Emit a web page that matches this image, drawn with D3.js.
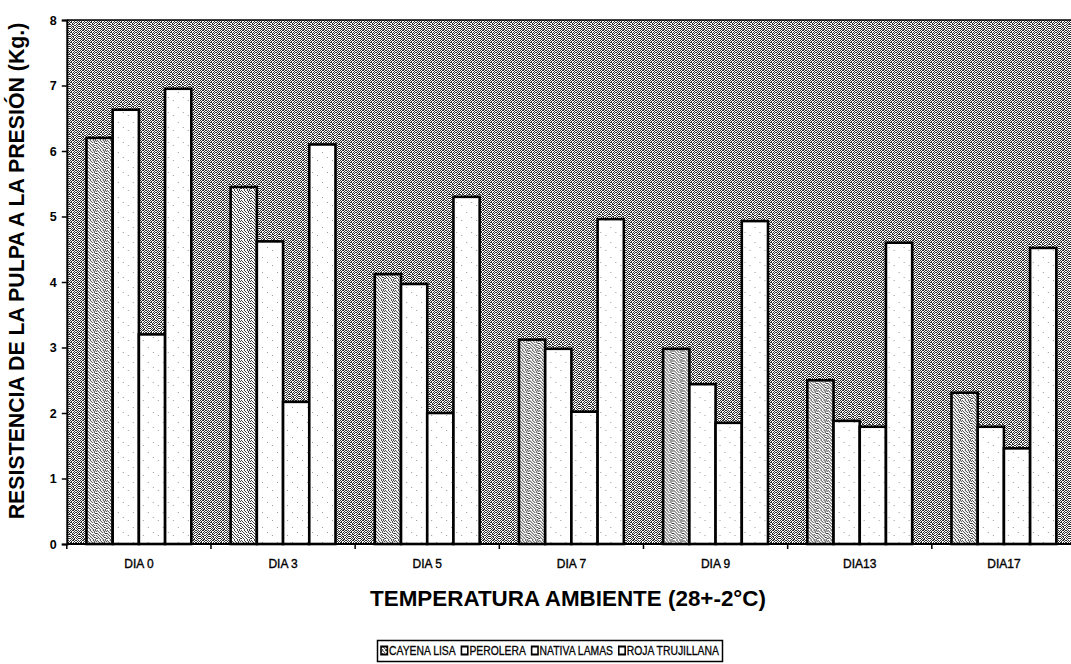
<!DOCTYPE html>
<html>
<head>
<meta charset="utf-8">
<script src="https://cdn.jsdelivr.net/npm/d3@7"></script>
<style>
  html, body { margin: 0; padding: 0; background: #fff; }
  svg { display: block; }
  text { font-family: "Liberation Sans", Arial, sans-serif; }
</style>
</head>
<body>
<svg id="chart" width="1071" height="664"></svg>
<script>
const categories = ["DIA 0", "DIA 3", "DIA 5", "DIA 7", "DIA 9", "DIA13", "DIA17"];
const seriesNames = ["CAYENA LISA", "PEROLERA", "NATIVA LAMAS", "ROJA TRUJILLANA"];
const cayenaLisa     = [6.20, 5.45, 4.12, 3.12, 2.98, 2.50, 2.31];
const perolera       = [6.63, 4.62, 3.97, 2.98, 2.44, 1.88, 1.79];
const nativaLamas    = [3.20, 2.17, 2.00, 2.02, 1.85, 1.79, 1.46];
const rojaTrujillana = [6.95, 6.10, 5.30, 4.96, 4.93, 4.60, 4.52];
const yTickValues = [0, 1, 2, 3, 4, 5, 6, 7, 8];
const yTitle = "RESISTENCIA DE LA PULPA A LA PRESIÓN (Kg.)";
const xTitle = "TEMPERATURA AMBIENTE (28+-2°C)";

const seriesValues = [cayenaLisa, perolera, nativaLamas, rojaTrujillana];
const table = categories.map((c, i) => ({
  cat: c,
  vals: seriesNames.map((s, j) => ({ key: s, idx: j, value: seriesValues[j][i] }))
}));

const svg = d3.select("#chart");
const m = { left: 66.8, right: 1076, top: 20, bottom: 544 };

// ---------- patterns ----------
const defs = svg.append("defs");
function stipple(id, rows, bg, fg) {
  const h = rows.length, w = rows[0].length;
  const p = defs.append("pattern").attr("id", id)
    .attr("patternUnits", "userSpaceOnUse").attr("width", w).attr("height", h);
  p.append("rect").attr("width", w).attr("height", h).attr("fill", bg);
  rows.forEach((r, y) => r.split("").forEach((ch, x) => {
    if (ch === "1") p.append("rect").attr("x", x).attr("y", y).attr("width", 1).attr("height", 1)
      .attr("fill", fg).attr("shape-rendering", "crispEdges");
  }));
}
stipple("bgPat", [
  "1011011010",
  "0100100101",
  "1101011010",
  "0010100101",
  "1011001011",
  "0100110100",
  "1011001011",
  "0101010100",
  "1010101011",
  "0101100100"
], "#ffffff", "#2e2e2e");
stipple("cayPat", [
  "1001001010",
  "0100100101",
  "0010010100",
  "1001000011",
  "0100101000",
  "0010010101",
  "1001001000",
  "0100100110",
  "1010010001",
  "0001001010"
], "#ffffff", "#3a3a3a");
stipple("whitePat", [
  "000000000000000",
  "000000000000000",
  "000000100000000",
  "000000000000000",
  "000000000000000",
  "000000000000000",
  "000000000000000",
  "000000000001000",
  "000000000000000",
  "000000000000000",
  "010000000000000",
  "000000000000000",
  "000000000000000",
  "000000000000000",
  "000000000000000"
], "#ffffff", "#999999");

// ---------- scales ----------
const x0 = d3.scaleBand().domain(categories).range([m.left, m.right]).paddingInner(0).paddingOuter(0);
const x1 = d3.scaleBand().domain(seriesNames).range([0, x0.bandwidth()]).paddingInner(0).paddingOuter(0.75);
const y = d3.scaleLinear().domain([0, 8]).range([m.bottom, m.top]);
const fills = ["url(#cayPat)", "url(#whitePat)", "url(#whitePat)", "url(#whitePat)"];

// plot area background
svg.append("rect")
  .attr("x", m.left).attr("y", m.top)
  .attr("width", m.right - m.left).attr("height", m.bottom - m.top)
  .attr("fill", "url(#bgPat)");
svg.append("line").attr("x1", m.left).attr("x2", m.right).attr("y1", m.top).attr("y2", m.top)
  .attr("stroke", "#000").attr("stroke-width", 1.5);

// bars
const g = svg.append("g");
g.selectAll("g.grp").data(table).join("g").attr("class", "grp")
  .attr("transform", d => `translate(${x0(d.cat)},0)`)
  .selectAll("rect").data(d => d.vals).join("rect")
  .attr("x", d => x1(d.key))
  .attr("y", d => y(d.value))
  .attr("width", x1.bandwidth())
  .attr("height", d => y(0) - y(d.value))
  .attr("fill", d => fills[d.idx])
  .attr("stroke", "#000").attr("stroke-width", 2.6);

// y axis
const yAxis = svg.append("g").attr("transform", `translate(${m.left},0)`)
  .call(d3.axisLeft(y).tickValues(yTickValues).tickSize(5).tickPadding(5).tickFormat(d3.format("d")));
yAxis.select(".domain").attr("stroke", "#000").attr("stroke-width", 2);
yAxis.selectAll(".tick line").attr("stroke", "#000").attr("stroke-width", 1.5);
yAxis.selectAll(".tick text").attr("font-size", 12.5).attr("font-weight", "bold")
  .attr("font-family", "Liberation Sans, Arial, sans-serif").attr("fill", "#000");

// x axis
const xAxis = svg.append("g").attr("transform", `translate(0,${m.bottom})`)
  .call(d3.axisBottom(x0).tickSize(0).tickPadding(15));
xAxis.select(".domain").remove();
xAxis.append("line").attr("x1", m.left).attr("x2", m.right).attr("y1", 0).attr("y2", 0)
  .attr("stroke", "#000").attr("stroke-width", 2);
xAxis.selectAll("line.bnd").data(categories.map(c => x0(c)).concat([m.right])).join("line").attr("class", "bnd")
  .attr("x1", d => d).attr("x2", d => d).attr("y1", 0).attr("y2", 5)
  .attr("stroke", "#000").attr("stroke-width", 1.5);
xAxis.selectAll(".tick text").attr("font-size", 12).attr("fill", "#000")
  .attr("stroke", "#000").attr("stroke-width", 0.35)
  .attr("font-family", "Liberation Sans, Arial, sans-serif");

function fitText(sel, target) {
  const w = sel.node().getComputedTextLength();
  const fs = parseFloat(sel.attr("font-size"));
  sel.attr("font-size", fs * target / w);
}

// y title
const yt = svg.append("text")
  .attr("transform", `translate(24,${271}) rotate(-90)`)
  .attr("text-anchor", "middle").attr("font-weight", "bold").attr("font-size", 16)
  .attr("fill", "#000").text(yTitle);
fitText(yt, 497);

// x title
const xt = svg.append("text")
  .attr("x", 568).attr("y", 606)
  .attr("text-anchor", "middle").attr("font-weight", "bold").attr("font-size", 17)
  .attr("fill", "#000").text(xTitle);
fitText(xt, 396);

// legend
const lg = svg.append("g");
lg.append("rect").attr("x", 377.5).attr("y", 640.5).attr("width", 345).attr("height", 21)
  .attr("fill", "#fff").attr("stroke", "#000").attr("stroke-width", 1.5);
const itemsG = lg.append("g");
let cx = 381;
seriesNames.forEach((s, i) => {
  itemsG.append("rect").attr("x", cx).attr("y", 646.5).attr("width", 8).attr("height", 8)
    .attr("fill", i === 0 ? "url(#cayPat)" : "#fff").attr("stroke", "#000").attr("stroke-width", 2);
  const t = itemsG.append("text").attr("x", cx + 10).attr("y", 655.5).attr("font-size", 13)
    .attr("stroke", "#000").attr("stroke-width", 0.3)
    .attr("fill", "#000").text(s);
  cx += 10 + t.node().getComputedTextLength() + 7;
});
// scale legend items to fit box
const used = cx - 7 - 381;
const k = 338 / used;
itemsG.attr("transform", `translate(${381 - 381 * k},0) scale(${k},1)`);
</script>
</body>
</html>
